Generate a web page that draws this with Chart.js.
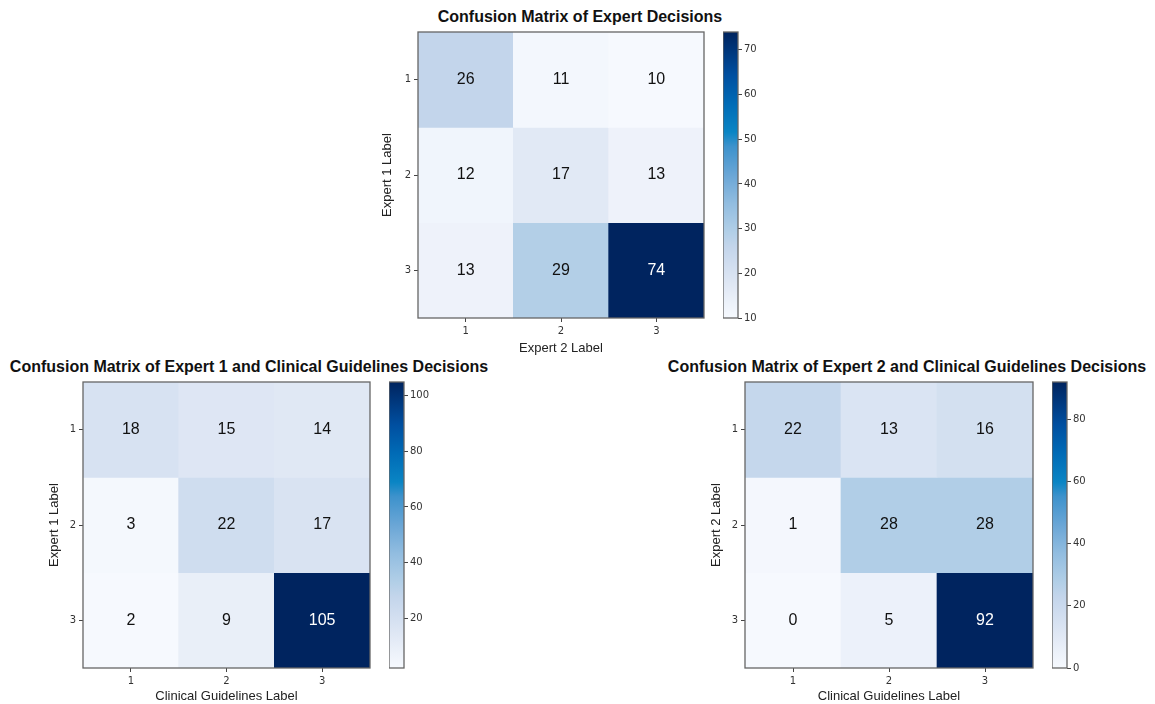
<!DOCTYPE html>
<html>
<head>
<meta charset="utf-8">
<script src="https://cdn.jsdelivr.net/npm/chart.js@4.4.1/dist/chart.umd.min.js"></script>
<style>
  body { margin: 0; background: #fff; width: 1155px; height: 704px; overflow: hidden; position: relative; }
  canvas { position: absolute; }
  .ttl { position: absolute; width: 600px; text-align: center; font: bold 16px "Liberation Sans", Arial, sans-serif; color: #111; line-height: 18px; }
</style>
</head>
<body>
<div class="ttl" id="t_top" style="left:280px; top:8px;">Confusion Matrix of Expert Decisions</div>
<div class="ttl" id="t_bl" style="left:-51px; top:358px;">Confusion Matrix of Expert 1 and Clinical Guidelines Decisions</div>
<div class="ttl" id="t_br" style="left:607px; top:358px;">Confusion Matrix of Expert 2 and Clinical Guidelines Decisions</div>

<canvas id="cm_top" width="340" height="339" style="left:370px; top:23px;"></canvas>
<canvas id="cb_top" width="55" height="306" style="left:723px; top:22px;"></canvas>
<canvas id="cm_bl" width="346" height="343" style="left:30px; top:373px;"></canvas>
<canvas id="cb_bl" width="55" height="306" style="left:389px; top:372px;"></canvas>
<canvas id="cm_br" width="347" height="343" style="left:692px; top:373px;"></canvas>
<canvas id="cb_br" width="55" height="306" style="left:1052px; top:372px;"></canvas>

<script>
// labels of the classes (rows = first rater, cols = second rater)
const classLabels = ['1', '2', '3']

// confusion matrices, row by row
const expertsMatrix = [
    [26, 11, 10],
    [12, 17, 13],
    [13, 29, 74]
]
const expert1GuideMatrix = [
    [18, 15, 14],
    [3, 22, 17],
    [2, 9, 105]
]
const expert2GuideMatrix = [
    [22, 13, 16],
    [1, 28, 28],
    [0, 5, 92]
]

// colorbar ticks
const expertsTicks = [10, 20, 30, 40, 50, 60, 70]
const expert1GuideTicks = [20, 40, 60, 80, 100]
const expert2GuideTicks = [0, 20, 40, 60, 80]

// blues-like colormap
const cmapStops = [
    [0.00, [246, 249, 254]],
    [0.05, [237, 242, 250]],
    [0.12, [223, 231, 244]],
    [0.25, [195, 213, 235]],
    [0.30, [178, 207, 231]],
    [0.40, [146, 189, 224]],
    [0.50, [106, 166, 214]],
    [0.60, [61, 146, 204]],
    [0.65, [10, 133, 196]],
    [0.75, [0, 107, 182]],
    [0.85, [0, 79, 160]],
    [1.00, [0, 36, 95]]
]

function cmap(t) {
    t = Math.max(0, Math.min(1, t))
    for (let i = 1; i < cmapStops.length; i++) {
        const [t1, c1] = cmapStops[i]
        const [t0, c0] = cmapStops[i - 1]
        if (t <= t1) {
            const f = (t - t0) / (t1 - t0)
            const c = c0.map((v, k) => Math.round(v + (c1[k] - v) * f))
            return 'rgb(' + c.join(',') + ')'
        }
    }
    return 'rgb(0,36,95)'
}

const tickFont = { family: 'DejaVu Sans', size: 10 }
const labelFont = { family: 'Liberation Sans', size: 13 }

// frame round the plot area + numbers in the cells
const matrixPlugin = {
    id: 'matrixPlugin',
    afterDatasetsDraw(chart) {
        const ctx = chart.ctx
        const m = chart.options.plugins.matrixPlugin.matrix
        const vmax = Math.max(...m.flat())
        ctx.save()
        ctx.font = '16px "Liberation Sans", Arial'
        ctx.textAlign = 'center'
        ctx.textBaseline = 'middle'
        chart.data.datasets.forEach((ds, i) => {
            chart.getDatasetMeta(i).data.forEach((bar, j) => {
                const v = m[i][j]
                ctx.fillStyle = v > vmax / 2 ? '#ffffff' : '#111111'
                ctx.fillText(String(v), bar.x, (bar.y + bar.base) / 2)
            })
        })
        const a = chart.chartArea
        ctx.strokeStyle = '#666'
        ctx.lineWidth = 1.3
        ctx.strokeRect(a.left, a.top, a.right - a.left, a.bottom - a.top)
        ctx.restore()
    }
}

const framePlugin = {
    id: 'framePlugin',
    afterDatasetsDraw(chart) {
        const a = chart.chartArea
        const ctx = chart.ctx
        ctx.save()
        ctx.strokeStyle = '#666'
        ctx.lineWidth = 1.3
        ctx.strokeRect(a.left, a.top, a.right - a.left, a.bottom - a.top)
        ctx.restore()
    }
}

function drawMatrix(canvasId, matrix, xTitle, yTitle, yAxisWidth, xAxisHeight, yTitlePad, xTitlePad) {
    const flat = matrix.flat()
    const vmin = Math.min(...flat)
    const vmax = Math.max(...flat)
    // one dataset per row, each cell a unit tall bar stacked downward
    const datasets = matrix.map((row, i) => ({
        label: classLabels[i],
        data: row.map(() => 1),
        backgroundColor: row.map(v => cmap((v - vmin) / (vmax - vmin))),
        borderWidth: 0,
        barPercentage: 1,
        categoryPercentage: 1
    }))
    return new Chart(document.getElementById(canvasId), {
        type: 'bar',
        data: { labels: classLabels, datasets: datasets },
        options: {
            responsive: false,
            animation: false,
            layout: { padding: { top: 6, right: 6, left: 0, bottom: 0 } },
            plugins: {
                legend: { display: false },
                tooltip: { enabled: false },
                matrixPlugin: { matrix: matrix }
            },
            scales: {
                x: {
                    stacked: true,
                    grid: { display: true, drawOnChartArea: false, offset: false, tickLength: 4, color: '#444' },
                    border: { display: false },
                    ticks: { font: tickFont, color: '#333', padding: 3, maxRotation: 0 },
                    title: { display: true, text: xTitle, font: labelFont, color: '#222', padding: { top: 0, bottom: xTitlePad } },
                    afterFit(scale) { scale.height = xAxisHeight }
                },
                y: {
                    stacked: true,
                    reverse: true,
                    min: 0,
                    max: 3,
                    grid: { display: true, drawOnChartArea: false, tickLength: 4, color: '#444' },
                    border: { display: false },
                    afterBuildTicks(scale) {
                        scale.ticks = classLabels.map((l, i) => ({ value: i + 0.5 }))
                    },
                    ticks: {
                        font: tickFont,
                        color: '#333',
                        padding: 3,
                        callback: (v) => classLabels[Math.floor(v)]
                    },
                    title: { display: true, text: yTitle, font: labelFont, color: '#222', padding: { top: yTitlePad, bottom: 0 } },
                    afterFit(scale) { scale.width = yAxisWidth }
                }
            }
        },
        plugins: [matrixPlugin]
    })
}

function drawColorbar(canvasId, matrix, tickValues) {
    const flat = matrix.flat()
    const vmin = Math.min(...flat)
    const vmax = Math.max(...flat)
    return new Chart(document.getElementById(canvasId), {
        type: 'bar',
        data: {
            labels: [''],
            datasets: [{
                data: [[vmin, vmax]],
                borderWidth: 0,
                barPercentage: 1,
                categoryPercentage: 1,
                backgroundColor(ctx) {
                    const area = ctx.chart.chartArea
                    if (!area) return '#ccc'
                    const g = ctx.chart.ctx.createLinearGradient(0, area.bottom, 0, area.top)
                    cmapStops.forEach(([t]) => g.addColorStop(t, cmap(t)))
                    return g
                }
            }]
        },
        options: {
            responsive: false,
            animation: false,
            layout: { padding: { top: 10, bottom: 10, left: 0, right: 0 } },
            plugins: { legend: { display: false }, tooltip: { enabled: false } },
            scales: {
                x: { display: false },
                y: {
                    position: 'right',
                    min: vmin,
                    max: vmax,
                    grid: { display: true, drawOnChartArea: false, tickLength: 4, color: '#444' },
                    border: { display: false },
                    afterBuildTicks(scale) {
                        scale.ticks = tickValues.map(v => ({ value: v }))
                    },
                    ticks: { font: tickFont, color: '#333', padding: 2 },
                    afterFit(scale) { scale.width = 40 }
                }
            }
        },
        plugins: [framePlugin]
    })
}

drawMatrix('cm_top', expertsMatrix, 'Expert 2 Label', 'Expert 1 Label', 48, 44, 10, 6)
drawColorbar('cb_top', expertsMatrix, expertsTicks)

drawMatrix('cm_bl', expert1GuideMatrix, 'Clinical Guidelines Label', 'Expert 1 Label', 53, 48, 17, 12)
drawColorbar('cb_bl', expert1GuideMatrix, expert1GuideTicks)

drawMatrix('cm_br', expert2GuideMatrix, 'Clinical Guidelines Label', 'Expert 2 Label', 53, 48, 17, 12)
drawColorbar('cb_br', expert2GuideMatrix, expert2GuideTicks)
</script>
</body>
</html>
